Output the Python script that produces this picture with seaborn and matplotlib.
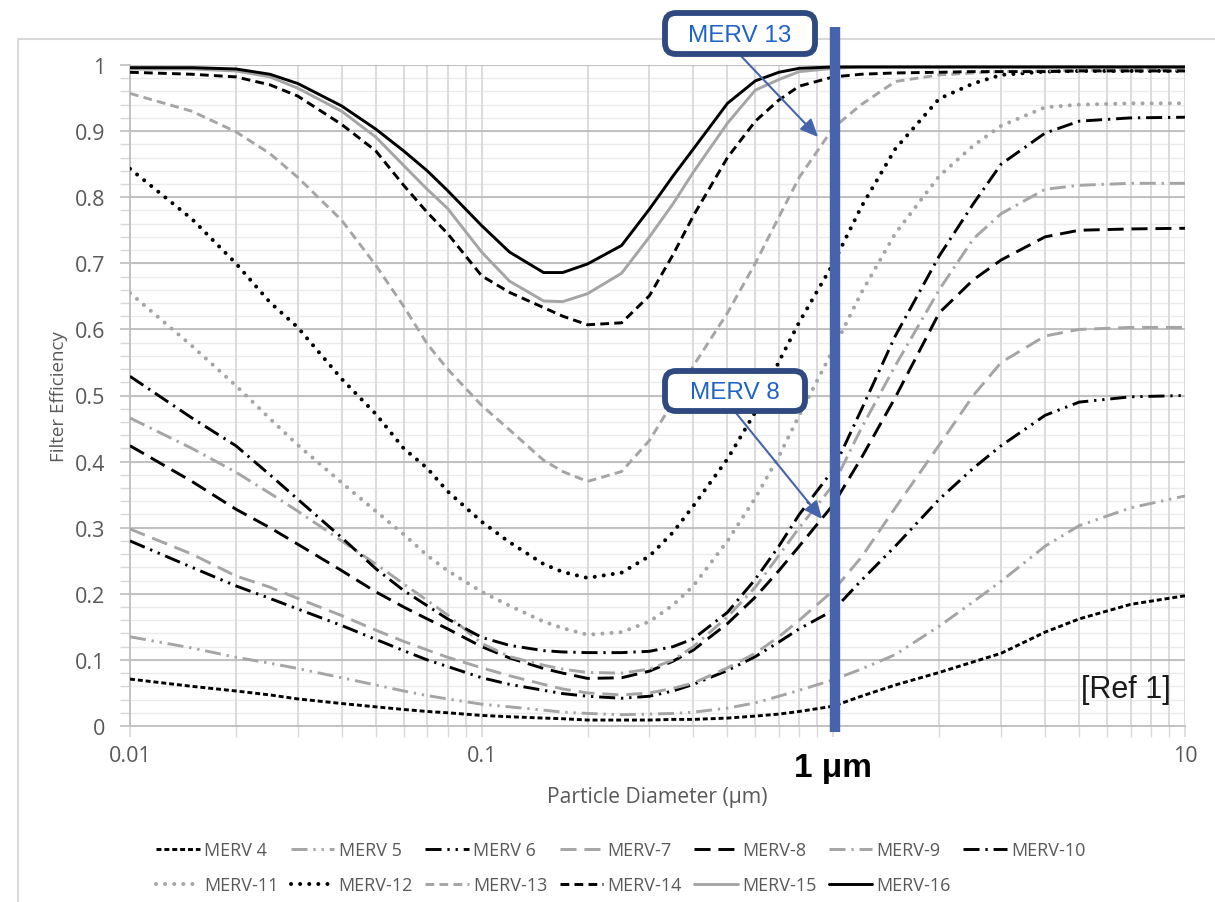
import numpy as np
import pandas as pd
import matplotlib
matplotlib.use("Agg")
import matplotlib.pyplot as plt
import seaborn as sns
from matplotlib.patches import FancyBboxPatch, Rectangle
from matplotlib.transforms import IdentityTransform
from matplotlib.ticker import FixedLocator, NullFormatter

# ---------------- data ----------------
diameter = [0.01, 0.015, 0.02, 0.025, 0.03, 0.04, 0.05, 0.06, 0.07, 0.08, 0.1, 0.12,
            0.15, 0.17, 0.2, 0.25, 0.3, 0.35, 0.4, 0.5, 0.6, 0.7, 0.8, 1.0, 1.2, 1.5,
            2.0, 2.5, 3.0, 4.0, 5.0, 7.0, 10.0]

merv4 = [0.071, 0.060, 0.053, 0.047, 0.041, 0.034, 0.029, 0.025, 0.022, 0.020, 0.016, 0.014,
         0.012, 0.011, 0.009, 0.009, 0.009, 0.010, 0.010, 0.012, 0.015, 0.018, 0.022, 0.030,
         0.045, 0.062, 0.081, 0.097, 0.110, 0.142, 0.162, 0.184, 0.197]
merv5 = [0.135, 0.118, 0.104, 0.095, 0.087, 0.073, 0.062, 0.053, 0.046, 0.041, 0.033, 0.029,
         0.024, 0.021, 0.019, 0.017, 0.018, 0.019, 0.021, 0.027, 0.035, 0.045, 0.054, 0.070,
         0.086, 0.108, 0.151, 0.188, 0.219, 0.272, 0.303, 0.330, 0.348]
merv6 = [0.280, 0.240, 0.212, 0.193, 0.177, 0.152, 0.131, 0.114, 0.100, 0.090, 0.073, 0.063,
         0.054, 0.049, 0.045, 0.042, 0.045, 0.053, 0.063, 0.084, 0.105, 0.127, 0.147, 0.175,
         0.220, 0.272, 0.343, 0.390, 0.424, 0.470, 0.490, 0.498, 0.500]
merv7 = [0.298, 0.260, 0.227, 0.210, 0.193, 0.167, 0.145, 0.128, 0.115, 0.104, 0.088, 0.076,
         0.063, 0.056, 0.050, 0.047, 0.050, 0.057, 0.065, 0.088, 0.110, 0.135, 0.160, 0.205,
         0.255, 0.330, 0.425, 0.500, 0.550, 0.590, 0.600, 0.603, 0.603]
merv8 = [0.424, 0.370, 0.328, 0.300, 0.275, 0.235, 0.203, 0.180, 0.162, 0.147, 0.120, 0.103,
         0.087, 0.080, 0.072, 0.073, 0.083, 0.098, 0.115, 0.155, 0.195, 0.235, 0.272, 0.335,
         0.405, 0.497, 0.625, 0.675, 0.705, 0.740, 0.750, 0.752, 0.753]
merv9 = [0.466, 0.420, 0.384, 0.352, 0.325, 0.280, 0.245, 0.215, 0.190, 0.168, 0.125, 0.105,
         0.092, 0.086, 0.081, 0.080, 0.086, 0.100, 0.120, 0.165, 0.210, 0.258, 0.300, 0.365,
         0.450, 0.545, 0.660, 0.737, 0.775, 0.812, 0.818, 0.821, 0.821]
merv10 = [0.529, 0.466, 0.424, 0.380, 0.343, 0.285, 0.238, 0.205, 0.182, 0.162, 0.134, 0.122,
          0.114, 0.112, 0.111, 0.111, 0.113, 0.120, 0.132, 0.172, 0.222, 0.272, 0.320, 0.388,
          0.478, 0.590, 0.711, 0.790, 0.850, 0.897, 0.915, 0.920, 0.921]
merv11 = [0.655, 0.575, 0.515, 0.465, 0.425, 0.368, 0.325, 0.290, 0.258, 0.235, 0.203, 0.182,
          0.158, 0.148, 0.138, 0.142, 0.158, 0.183, 0.212, 0.280, 0.345, 0.408, 0.470, 0.570,
          0.655, 0.745, 0.832, 0.878, 0.908, 0.936, 0.940, 0.942, 0.942]
merv12 = [0.843, 0.767, 0.700, 0.641, 0.603, 0.525, 0.472, 0.420, 0.390, 0.355, 0.309, 0.278,
          0.245, 0.233, 0.224, 0.232, 0.257, 0.293, 0.333, 0.404, 0.475, 0.551, 0.611, 0.700,
          0.785, 0.873, 0.949, 0.972, 0.985, 0.990, 0.991, 0.991, 0.991]
merv13 = [0.957, 0.930, 0.899, 0.866, 0.830, 0.765, 0.697, 0.635, 0.578, 0.540, 0.485, 0.448,
          0.402, 0.385, 0.370, 0.385, 0.432, 0.490, 0.545, 0.625, 0.700, 0.770, 0.830, 0.905,
          0.940, 0.975, 0.985, 0.988, 0.990, 0.991, 0.992, 0.993, 0.993]
merv14 = [0.989, 0.986, 0.982, 0.970, 0.953, 0.910, 0.870, 0.818, 0.777, 0.745, 0.681, 0.656,
          0.633, 0.620, 0.607, 0.610, 0.651, 0.713, 0.772, 0.860, 0.915, 0.947, 0.968, 0.982,
          0.986, 0.988, 0.989, 0.990, 0.990, 0.990, 0.991, 0.991, 0.991]
merv15 = [0.994, 0.994, 0.991, 0.982, 0.965, 0.930, 0.891, 0.848, 0.812, 0.783, 0.717, 0.673,
          0.643, 0.642, 0.654, 0.685, 0.740, 0.790, 0.838, 0.912, 0.962, 0.978, 0.990, 0.995,
          0.997, 0.997, 0.997, 0.997, 0.997, 0.997, 0.997, 0.997, 0.997]
merv16 = [0.996, 0.996, 0.994, 0.986, 0.972, 0.938, 0.903, 0.870, 0.840, 0.810, 0.757, 0.717,
          0.686, 0.686, 0.699, 0.727, 0.782, 0.832, 0.873, 0.942, 0.976, 0.989, 0.995, 0.997,
          0.997, 0.997, 0.997, 0.997, 0.997, 0.997, 0.997, 0.997, 0.997]

series_names = ["MERV 4", "MERV 5", "MERV 6", "MERV-7", "MERV-8", "MERV-9", "MERV-10",
                "MERV-11", "MERV-12", "MERV-13", "MERV-14", "MERV-15", "MERV-16"]
series_values = [merv4, merv5, merv6, merv7, merv8, merv9, merv10,
                 merv11, merv12, merv13, merv14, merv15, merv16]

y_ticks = [0, 0.1, 0.2, 0.3, 0.4, 0.5, 0.6, 0.7, 0.8, 0.9, 1]
y_tick_labels = ["0", "0.1", "0.2", "0.3", "0.4", "0.5", "0.6", "0.7", "0.8", "0.9", "1"]
x_ticks = [0.01, 0.1, 1, 10]
x_tick_labels = ["0.01", "0.1", "", "10"]

# ---------------- styles ----------------
BLACK = "#000000"
GRAY = "#a5a5a5"
LDD = (0, (5.5, 2.0, 0.8, 2.0, 0.8, 2.0))   # long dash dot dot
LD = (0, (5.5, 2.7))                        # long dash
LDOT = (0, (5.5, 2.0, 0.8, 2.0))            # long dash dot
DOT = (0, (0.01, 2.25))                     # round dots
DASH = (0, (3.0, 1.8))                      # dash
SDASH = (0, (1.7, 1.0))                     # short dash
styles = {
    "MERV 4": (BLACK, SDASH), "MERV 5": (GRAY, LDD), "MERV 6": (BLACK, LDD),
    "MERV-7": (GRAY, LD), "MERV-8": (BLACK, LD), "MERV-9": (GRAY, LDOT),
    "MERV-10": (BLACK, LDOT), "MERV-11": (GRAY, DOT), "MERV-12": (BLACK, DOT),
    "MERV-13": (GRAY, DASH), "MERV-14": (BLACK, DASH), "MERV-15": (GRAY, "-"),
    "MERV-16": (BLACK, "-"),
}

rows = []
for name, vals in zip(series_names, series_values):
    for d, v in zip(diameter, vals):
        rows.append({"Diameter": d, "Efficiency": v, "Series": name})
df = pd.DataFrame(rows)

sns.set_theme(style="white")
plt.rcParams["font.family"] = ["Open Sans", "DejaVu Sans"]

W, H = 1215, 903
fig = plt.figure(figsize=(W / 100, H / 100), dpi=100)

# chart-area frame
fig.patches.append(Rectangle((18 / W, -0.01), 1.0, 1 - 40 / H + 0.01, transform=fig.transFigure,
                             fill=False, edgecolor="#d9d9d9", linewidth=1.5, zorder=-1))

ax = fig.add_axes([130 / W, (H - 727) / H, 1055 / W, 661 / H])
ax.set_xscale("log")
ax.set_xlim(0.01, 10)
ax.set_ylim(0, 1)

# grid
ax.yaxis.set_major_locator(FixedLocator(y_ticks))
ax.yaxis.set_minor_locator(FixedLocator([i / 50 for i in range(51)]))
ax.xaxis.set_major_locator(FixedLocator(x_ticks))
minors = [m * 10.0 ** e for e in (-2, -1, 0) for m in range(2, 10)]
ax.xaxis.set_minor_locator(FixedLocator(minors))
ax.xaxis.set_minor_formatter(NullFormatter())
ax.grid(False)
for yv in [i / 50 for i in range(51)]:
    ax.axhline(yv, color="#ebebeb", lw=1.0, zorder=0)
for xv in minors + x_ticks:
    ax.axvline(xv, color="#d9d9d9", lw=1.3, zorder=0.5)
for yv in y_ticks:
    ax.axhline(yv, color="#bcbcbc", lw=1.3, zorder=0.6)

for name in series_names:
    color, ls = styles[name]
    sub = df[df["Series"] == name]
    is_dot = ls is DOT
    sns.lineplot(data=sub, x="Diameter", y="Efficiency", ax=ax, color=color,
                 linestyle=ls, linewidth=2.9 if is_dot else 2.1, label=name, legend=False,
                 dash_capstyle="round" if is_dot else "butt", zorder=3)

for sp in ["top", "right"]:
    ax.spines[sp].set_visible(False)
for sp in ["left", "bottom"]:
    ax.spines[sp].set_color("#bfbfbf")
    ax.spines[sp].set_linewidth(1.3)

ax.set_yticklabels(y_tick_labels)
ax.set_xticklabels(x_tick_labels)
ax.tick_params(axis="y", which="major", length=7, width=1.2, color="#bfbfbf",
               labelsize=15.5, labelcolor="#595959", pad=11, left=True)
ax.tick_params(axis="y", which="minor", length=7, width=1.0, color="#d9d9d9", left=True)
ax.tick_params(axis="x", which="major", length=8, width=1.2, color="#d9d9d9",
               labelsize=15.5, labelcolor="#595959", pad=6, bottom=True)
ax.tick_params(axis="x", which="minor", length=8, width=1.0, color="#d9d9d9", bottom=True)

ax.set_xlabel("Particle Diameter (\u03bcm)", fontsize=15.2, color="#595959", labelpad=14)
ax.set_ylabel("Filter Efficiency", fontsize=13.5, color="#595959", labelpad=5)

# blue 1 µm marker line
ax.plot([1.01, 1.01], [-0.009, 1.057], color="#4564ab", lw=7.5, solid_capstyle="butt",
        clip_on=False, zorder=5)
ax.text(1.0, -0.063, "1 \u03bcm", fontsize=24, fontweight="bold", color="black",
        family="Liberation Sans", ha="center", va="center", zorder=6)

# annotation boxes (pixel layout)
def callout(text, x0, y0, x1, y1, tip, start):
    box = FancyBboxPatch((x0, H - y1), x1 - x0, y1 - y0,
                         boxstyle="round,pad=0,rounding_size=11",
                         transform=IdentityTransform(), fc="white", ec="#2e4a80", lw=4.2,
                         zorder=8)
    fig.patches.append(box)
    fig.text((x0 + x1) / 2 / W, 1 - ((y0 + y1) / 2 + 1) / H, text, fontsize=17.5,
             color="#1f62c9", family="Liberation Sans", ha="center", va="center", zorder=9)
    ax.annotate("", xy=tip, xycoords="data", xytext=(start[0] / W, 1 - start[1] / H),
                textcoords="figure fraction",
                arrowprops=dict(arrowstyle="-|>,head_length=0.9,head_width=0.4",
                                color="#4564ab", lw=1.5, shrinkA=0, shrinkB=0),
                annotation_clip=False, zorder=7)

callout("MERV 13", 665, 14, 815, 55, (0.905, 0.891), (741, 57))
callout("MERV 8", 665, 372, 805, 412, (0.929, 0.313), (736, 414))

ax.text(9.1, 0.056, "[Ref 1]", fontsize=22, color="#1a1a1a", family="Liberation Sans",
        ha="right", va="center", zorder=6)

# legend (row-major order across 7 columns)
handles, labels = ax.get_legend_handles_labels()
hl = dict(zip(labels, handles))
order = []
for i in range(7):
    order.append(series_names[i])
    if i + 7 < len(series_names):
        order.append(series_names[i + 7])
leg = fig.legend([hl[n] for n in order], order, loc="upper center", ncol=7,
                 bbox_to_anchor=(0.511, 1 - 833 / H), frameon=False, fontsize=13,
                 handlelength=2.4, handletextpad=0.25, columnspacing=0.68, labelspacing=0.95,
                 borderpad=0)
for t in leg.get_texts():
    t.set_color("#595959")

fig.savefig("out.png", dpi=100)
